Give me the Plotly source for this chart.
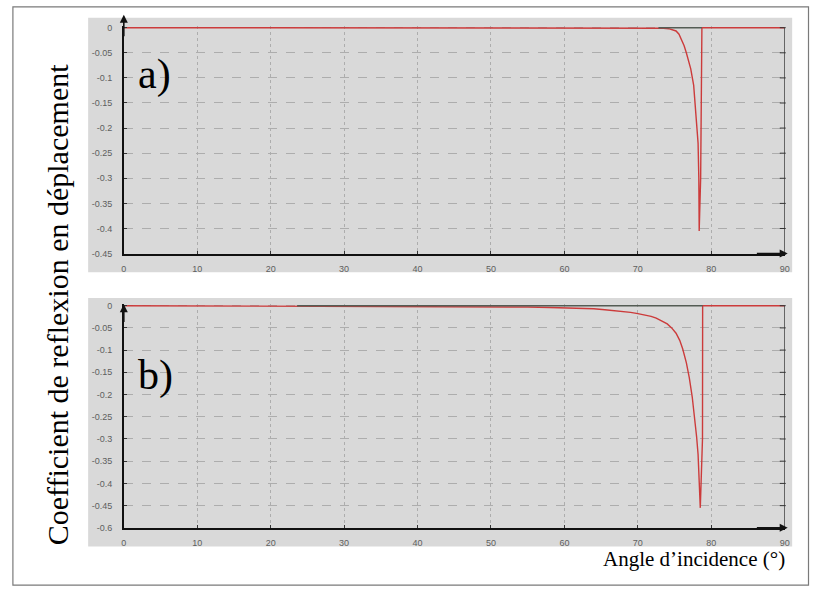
import plotly.graph_objects as go

# ---------------- data ----------------
x_ticks = [0, 10, 20, 30, 40, 50, 60, 70, 80, 90]
x_tick_labels = ["0", "10", "20", "30", "40", "50", "60", "70", "80", "90"]

ya_ticks = [0, -0.05, -0.1, -0.15, -0.2, -0.25, -0.3, -0.35, -0.4, -0.45]
ya_tick_labels = ["0", "-0.05", "-0.1", "-0.15", "-0.2", "-0.25", "-0.3", "-0.35", "-0.4", "-0.45"]

yb_ticks = [0, -0.05, -0.1, -0.15, -0.2, -0.25, -0.3, -0.35, -0.4, -0.45, -0.5]
yb_tick_labels = ["0", "-0.05", "-0.1", "-0.15", "-0.2", "-0.25", "-0.3", "-0.35", "-0.4", "-0.45", "-0.6"]

# panel a) red series
angle_a = [0, 72.8, 73.5, 74.2, 74.8, 75.2, 75.6, 75.9, 76.3, 76.6, 76.9, 77.2, 77.6,
           77.9, 78.1, 78.2, 78.3, 78.35, 78.55, 78.7, 78.72, 90]
coef_a = [0, 0, -0.001, -0.002, -0.004, -0.0065, -0.013, -0.023, -0.036, -0.05, -0.065,
          -0.082, -0.115, -0.17, -0.2, -0.23, -0.30, -0.405, -0.3, -0.1, 0, 0]
# panel a) dark series
angle_a2 = [72.8, 78.72]
coef_a2 = [0, 0]

# panel b) red series
angle_b = [0, 23.6, 30, 40, 50, 55, 58, 60, 62, 64, 65.5, 67, 68, 69, 70, 71, 71.8, 72.5,
           73.3, 74.0, 74.6, 75.2, 75.7, 76.1, 76.6, 77.0, 77.4, 77.7, 78.0, 78.2, 78.35,
           78.5, 78.8, 78.82, 90]
coef_b = [0, -0.001, -0.001, -0.002, -0.002, -0.003, -0.004, -0.0045, -0.005, -0.007,
          -0.009, -0.011, -0.013, -0.015, -0.018, -0.021, -0.024, -0.028, -0.034, -0.041,
          -0.05, -0.062, -0.078, -0.097, -0.128, -0.162, -0.205, -0.246, -0.295, -0.335,
          -0.385, -0.455, -0.3, 0, 0]
# panel b) dark series
angle_b2 = [23.6, 78.82]
coef_b2 = [0, 0]

# ---------------- layout helpers ----------------
W, H = 814, 595


def px(x):
    return x / W


def py(y):
    return 1 - y / H


RED = "#cc3b3b"
DARK = "#545c54"
GRID = "#adadad"
PANEL = "#d9d9d9"
TICKFONT = dict(family="Liberation Sans, Arial", size=9, color="#5e5e5e")
SERIF = "Liberation Serif, Times New Roman, serif"

fig = go.Figure()
fig.add_trace(go.Scatter(x=angle_a, y=coef_a, mode="lines", xaxis="x", yaxis="y",
                         line=dict(color=RED, width=1.4), showlegend=False, hoverinfo="skip"))
fig.add_trace(go.Scatter(x=angle_a2, y=coef_a2, mode="lines", xaxis="x", yaxis="y",
                         line=dict(color=DARK, width=1.4), showlegend=False, hoverinfo="skip"))
fig.add_trace(go.Scatter(x=angle_b, y=coef_b, mode="lines", xaxis="x2", yaxis="y2",
                         line=dict(color=RED, width=1.4), showlegend=False, hoverinfo="skip"))
fig.add_trace(go.Scatter(x=angle_b2, y=coef_b2, mode="lines", xaxis="x2", yaxis="y2",
                         line=dict(color=DARK, width=1.4), showlegend=False, hoverinfo="skip"))

xdom = [px(122), px(789.5)]
common_x = dict(range=[0, 90], tickvals=x_ticks, ticktext=x_tick_labels, showgrid=True,
                gridcolor=GRID, griddash="dot", gridwidth=1, zeroline=False, showline=True,
                linecolor="#111111", linewidth=1.6, ticks="inside", ticklen=3,
                tickcolor="#333333", tickfont=TICKFONT, ticklabelstandoff=6, fixedrange=True)
common_y = dict(showgrid=True, gridcolor=GRID, griddash="dash", gridwidth=1, zeroline=False,
                showline=True, linecolor="#111111", linewidth=1.6, ticks="inside", ticklen=3,
                tickcolor="#333333", tickfont=TICKFONT, ticklabelstandoff=8, fixedrange=True)

fig.update_layout(
    width=W, height=H, margin=dict(l=0, r=0, t=0, b=0),
    paper_bgcolor="white", plot_bgcolor="rgba(0,0,0,0)",
    xaxis=dict(domain=xdom, anchor="y", **common_x),
    yaxis=dict(domain=[py(254), py(23)], anchor="x", range=[-0.45, 0.004],
               tickvals=ya_ticks, ticktext=ya_tick_labels, **common_y),
    xaxis2=dict(domain=xdom, anchor="y2", **common_x),
    yaxis2=dict(domain=[py(532), py(305)], anchor="x2", range=[-0.5, 0.004],
                tickvals=yb_ticks, ticktext=yb_tick_labels, **common_y),
)

shapes = []
# outer frame
shapes.append(dict(type="rect", xref="paper", yref="paper", x0=px(10), x1=px(813.5),
                   y0=py(590), y1=py(4), line=dict(color="#7a7a7a", width=1.2), layer="below"))
# gray panels
shapes.append(dict(type="rect", xref="paper", yref="paper", x0=px(86), x1=px(797),
                   y0=py(273), y1=py(15), fillcolor=PANEL, line=dict(width=0), layer="below"))
shapes.append(dict(type="rect", xref="paper", yref="paper", x0=px(86), x1=px(797),
                   y0=py(551), y1=py(299), fillcolor=PANEL, line=dict(width=0), layer="below"))
# right-hand vertical axis lines with small ticks
for xr, yr, ticks in (("x", "y", ya_ticks), ("x2", "y2", yb_ticks)):
    shapes.append(dict(type="line", xref=xr, yref=yr, x0=90, x1=90, y0=min(ticks), y1=0,
                       line=dict(color="#222222", width=1.2)))
    for t in ticks:
        shapes.append(dict(type="line", xref=xr + " domain", yref=yr, x0=1 - 5 / 667.5, x1=1 + 1 / 667.5,
                           y0=t, y1=t, line=dict(color="#333333", width=1)))
fig.update_layout(shapes=shapes)

ann = []
# axis arrows
ann.append(dict(xref="x", yref="y", axref="x", ayref="y", x=0, y=0.026, ax=0, ay=-0.02,
                showarrow=True, arrowhead=2, arrowsize=1, arrowwidth=1.6, arrowcolor="#111111", text=""))
ann.append(dict(xref="x", yref="y", axref="x", ayref="y", x=90.4, y=-0.45, ax=86, ay=-0.45,
                showarrow=True, arrowhead=2, arrowsize=1, arrowwidth=1.6, arrowcolor="#111111", text=""))
ann.append(dict(xref="x2", yref="y2", axref="x2", ayref="y2", x=0, y=0.003, ax=0, ay=-0.04,
                showarrow=True, arrowhead=2, arrowsize=1, arrowwidth=1.6, arrowcolor="#111111", text=""))
ann.append(dict(xref="x2", yref="y2", axref="x2", ayref="y2", x=90.4, y=-0.5, ax=86, ay=-0.5,
                showarrow=True, arrowhead=2, arrowsize=1, arrowwidth=1.6, arrowcolor="#111111", text=""))
# panel labels
ann.append(dict(xref="paper", yref="paper", x=px(134), y=py(72), xanchor="left", yanchor="middle",
                text="a)", showarrow=False, font=dict(family=SERIF, size=42, color="black")))
ann.append(dict(xref="paper", yref="paper", x=px(134), y=py(378), xanchor="left", yanchor="middle",
                text="b)", showarrow=False, font=dict(family=SERIF, size=42, color="black")))
# axis titles
ann.append(dict(xref="paper", yref="paper", x=px(55), y=py(305), xanchor="center", yanchor="middle",
                text="Coefficient de reflexion en déplacement", textangle=-90, showarrow=False,
                font=dict(family=SERIF, size=30, color="black")))
ann.append(dict(xref="paper", yref="paper", x=px(792), y=py(564), xanchor="right", yanchor="middle",
                text="Angle d’incidence (°)", showarrow=False,
                font=dict(family=SERIF, size=21, color="black")))
fig.update_layout(annotations=ann)

fig.write_html("out.html")
